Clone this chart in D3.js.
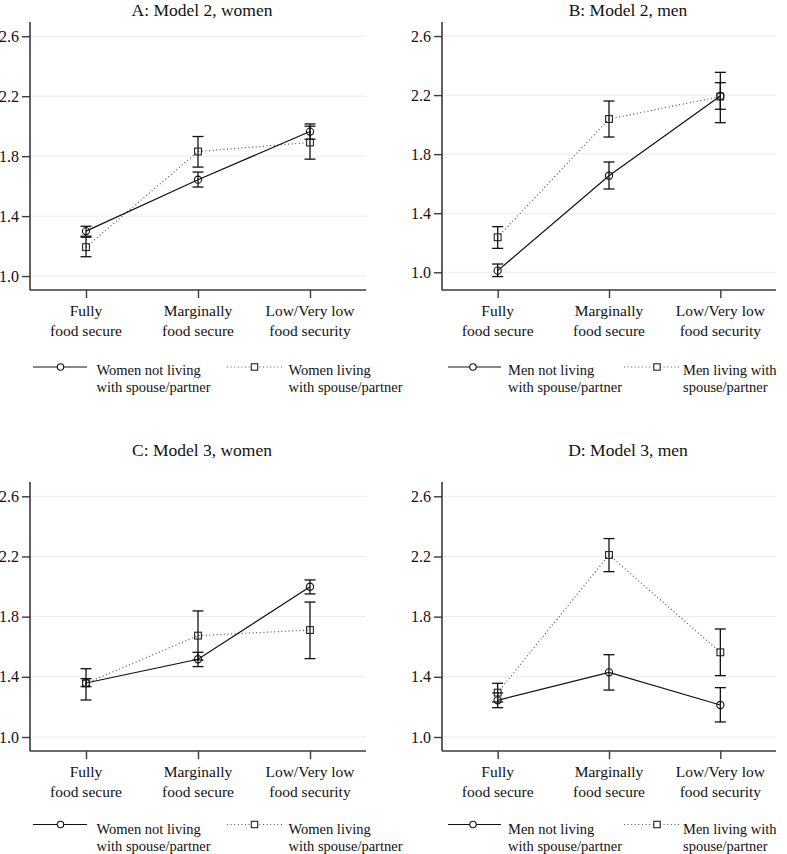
<!DOCTYPE html>
<html><head><meta charset="utf-8">
<script src="https://cdn.jsdelivr.net/npm/d3@7"></script>
<style>
html,body{margin:0;padding:0;background:#fff;}
svg{display:block;}
svg text{font-family:"Liberation Serif","Times New Roman",serif !important;}
</style></head>
<body><svg id="chart" width="787" height="854"></svg>
<script>
// ---- data ----
const categories = ["Fully|food secure", "Marginally|food secure", "Low/Very low|food security"];
const yTicks = [1.0, 1.4, 1.8, 2.2, 2.6];
const panelTitles = ["A: Model 2, women", "B: Model 2, men", "C: Model 3, women", "D: Model 3, men"];
const seriesNotLivingLabels = ["Women not living|with spouse/partner", "Men not living|with spouse/partner", "Women not living|with spouse/partner", "Men not living|with spouse/partner"];
const seriesLivingLabels = ["Women living|with spouse/partner", "Men living with|spouse/partner", "Women living|with spouse/partner", "Men living with|spouse/partner"];

// estimate, lower CI, upper CI per category
const A_notLiving = [[1.30, 1.266, 1.332], [1.643, 1.594, 1.694], [1.964, 1.913, 2.015]];
const A_living    = [[1.193, 1.129, 1.259], [1.831, 1.727, 1.931], [1.891, 1.78, 2.0]];
const B_notLiving = [[1.011, 0.971, 1.056], [1.654, 1.564, 1.747], [2.194, 2.104, 2.284]];
const B_living    = [[1.237, 1.162, 1.309], [2.038, 1.916, 2.160], [2.19, 2.013, 2.354]];
const C_notLiving = [[1.359, 1.335, 1.388], [1.517, 1.468, 1.563], [1.999, 1.951, 2.044]];
const C_living    = [[1.357, 1.246, 1.454], [1.674, 1.512, 1.838], [1.711, 1.521, 1.897]];
const D_notLiving = [[1.244, 1.195, 1.293], [1.43, 1.312, 1.547], [1.213, 1.10, 1.328]];
const D_living    = [[1.295, 1.233, 1.357], [2.21, 2.099, 2.319], [1.563, 1.408, 1.718]];

const yDomains = [[0.907, 2.695], [0.88, 2.695], [0.907, 2.695], [0.907, 2.695]];

// ---- layout ----
const cols = [
  {x0: 30, x1: 366, titleX: 202, solid: [33, 87], circ: 60.5, text1: 96.5, dot: [227, 283], sq: 254.5, text2: 288.5},
  {x0: 442, x1: 776, titleX: 628, solid: [448, 501], circ: 473, text1: 508, dot: [624, 679], sq: 657, text2: 683}
];
const rows = [
  {top: 22, bottom: 290, titleY: 15.5, legY: 367, legText: 374.5},
  {top: 482, bottom: 751, titleY: 456, legY: 824.5, legText: 833.5}
];
const panels = [
  {title: panelTitles[0], s1: A_notLiving, s2: A_living, col: cols[0], row: rows[0], dom: yDomains[0], l1: seriesNotLivingLabels[0], l2: seriesLivingLabels[0]},
  {title: panelTitles[1], s1: B_notLiving, s2: B_living, col: cols[1], row: rows[0], dom: yDomains[1], l1: seriesNotLivingLabels[1], l2: seriesLivingLabels[1]},
  {title: panelTitles[2], s1: C_notLiving, s2: C_living, col: cols[0], row: rows[1], dom: yDomains[2], l1: seriesNotLivingLabels[2], l2: seriesLivingLabels[2]},
  {title: panelTitles[3], s1: D_notLiving, s2: D_living, col: cols[1], row: rows[1], dom: yDomains[3], l1: seriesNotLivingLabels[3], l2: seriesLivingLabels[3]}
];

const svg = d3.select("#chart");
const axisColor = "#3a3a3a";
const dotColor = "#555";

function multiline(sel, text, x, y, lh) {
  const parts = text.split("|");
  const t = sel.append("text").attr("x", x).attr("y", y);
  parts.forEach((p, i) => t.append("tspan").attr("x", x).attr("dy", i === 0 ? 0 : lh).text(p));
  return t;
}

panels.forEach(p => {
  const g = svg.append("g");
  const x = d3.scalePoint().domain(categories).range([p.col.x0, p.col.x1]).padding(0.5);
  const y = d3.scaleLinear().domain(p.dom).range([p.row.bottom, p.row.top]);

  // gridlines
  g.append("g").selectAll("line").data(yTicks).join("line")
    .attr("x1", p.col.x0).attr("x2", p.col.x1)
    .attr("y1", d => y(d)).attr("y2", d => y(d))
    .attr("stroke", "#ebebeb").attr("stroke-width", 1);

  // y axis
  const ya = g.append("g").attr("transform", `translate(${p.col.x0},0)`)
    .call(d3.axisLeft(y).tickValues(yTicks).tickFormat(d3.format(".1f")).tickSize(8).tickPadding(3));
  ya.attr("font-family", null).attr("font-size", null);
  ya.select(".domain").attr("stroke", axisColor).attr("stroke-width", 1.6).attr("d", `M0,${p.row.top}V${p.row.bottom}`);
  ya.selectAll(".tick line").attr("stroke", axisColor).attr("stroke-width", 1.4);
  ya.selectAll(".tick text").attr("font-size", 16).attr("fill", "#111");

  // x axis
  const xa = g.append("g").attr("transform", `translate(0,${p.row.bottom})`)
    .call(d3.axisBottom(x).tickSize(8).tickFormat(""));
  xa.select(".domain").attr("stroke", axisColor).attr("stroke-width", 1.6).attr("d", `M${p.col.x0},0H${p.col.x1}`);
  xa.selectAll(".tick line").attr("stroke", axisColor).attr("stroke-width", 1.4);
  categories.forEach(c => {
    multiline(g, c, x(c), p.row.bottom + 26, 20)
      .attr("text-anchor", "middle").attr("font-size", 15.5).attr("fill", "#111");
  });

  // title
  g.append("text").attr("x", p.col.titleX).attr("y", p.row.titleY)
    .attr("text-anchor", "middle").attr("font-size", 17.5).attr("fill", "#111").text(p.title);

  const line = d3.line().x((d, i) => x(categories[i])).y(d => y(d[0]));

  // series lines
  g.append("path").attr("d", line(p.s2)).attr("fill", "none")
    .attr("stroke", dotColor).attr("stroke-width", 1.2).attr("stroke-dasharray", "1,2.6");
  g.append("path").attr("d", line(p.s1)).attr("fill", "none")
    .attr("stroke", "#111").attr("stroke-width", 1.2);

  // error bars
  [p.s1, p.s2].forEach(s => {
    const eb = g.append("g").attr("stroke", "#111").attr("stroke-width", 1.3);
    s.forEach((d, i) => {
      const cx = x(categories[i]);
      eb.append("line").attr("x1", cx).attr("x2", cx).attr("y1", y(d[1])).attr("y2", y(d[2]));
      eb.append("line").attr("x1", cx - 5.5).attr("x2", cx + 5.5).attr("y1", y(d[1])).attr("y2", y(d[1]));
      eb.append("line").attr("x1", cx - 5.5).attr("x2", cx + 5.5).attr("y1", y(d[2])).attr("y2", y(d[2]));
    });
  });

  // markers
  g.append("g").selectAll("circle").data(p.s1).join("circle")
    .attr("cx", (d, i) => x(categories[i])).attr("cy", d => y(d[0])).attr("r", 3.6)
    .attr("fill", "none").attr("stroke", "#111").attr("stroke-width", 1.1);
  g.append("g").selectAll("rect").data(p.s2).join("rect")
    .attr("x", (d, i) => x(categories[i]) - 3.4).attr("y", d => y(d[0]) - 3.4)
    .attr("width", 6.8).attr("height", 6.8)
    .attr("fill", "none").attr("stroke", "#222").attr("stroke-width", 1.1);

  // legend
  const L = g.append("g");
  L.append("line").attr("x1", p.col.solid[0]).attr("x2", p.col.solid[1])
    .attr("y1", p.row.legY).attr("y2", p.row.legY).attr("stroke", "#111").attr("stroke-width", 1.2);
  L.append("circle").attr("cx", p.col.circ).attr("cy", p.row.legY).attr("r", 3.2)
    .attr("fill", "#fff").attr("stroke", "#111").attr("stroke-width", 1.1);
  multiline(L, p.l1, p.col.text1, p.row.legText, 17).attr("font-size", 14.5).attr("fill", "#111");
  L.append("line").attr("x1", p.col.dot[0]).attr("x2", p.col.dot[1])
    .attr("y1", p.row.legY).attr("y2", p.row.legY).attr("stroke", dotColor).attr("stroke-width", 1.1)
    .attr("stroke-dasharray", "1,2.6");
  L.append("rect").attr("x", p.col.sq - 3.2).attr("y", p.row.legY - 3.2).attr("width", 6.4).attr("height", 6.4)
    .attr("fill", "#fff").attr("stroke", "#222").attr("stroke-width", 1.1);
  multiline(L, p.l2, p.col.text2, p.row.legText, 17).attr("font-size", 14.5).attr("fill", "#111");
});
</script>
</body></html>
